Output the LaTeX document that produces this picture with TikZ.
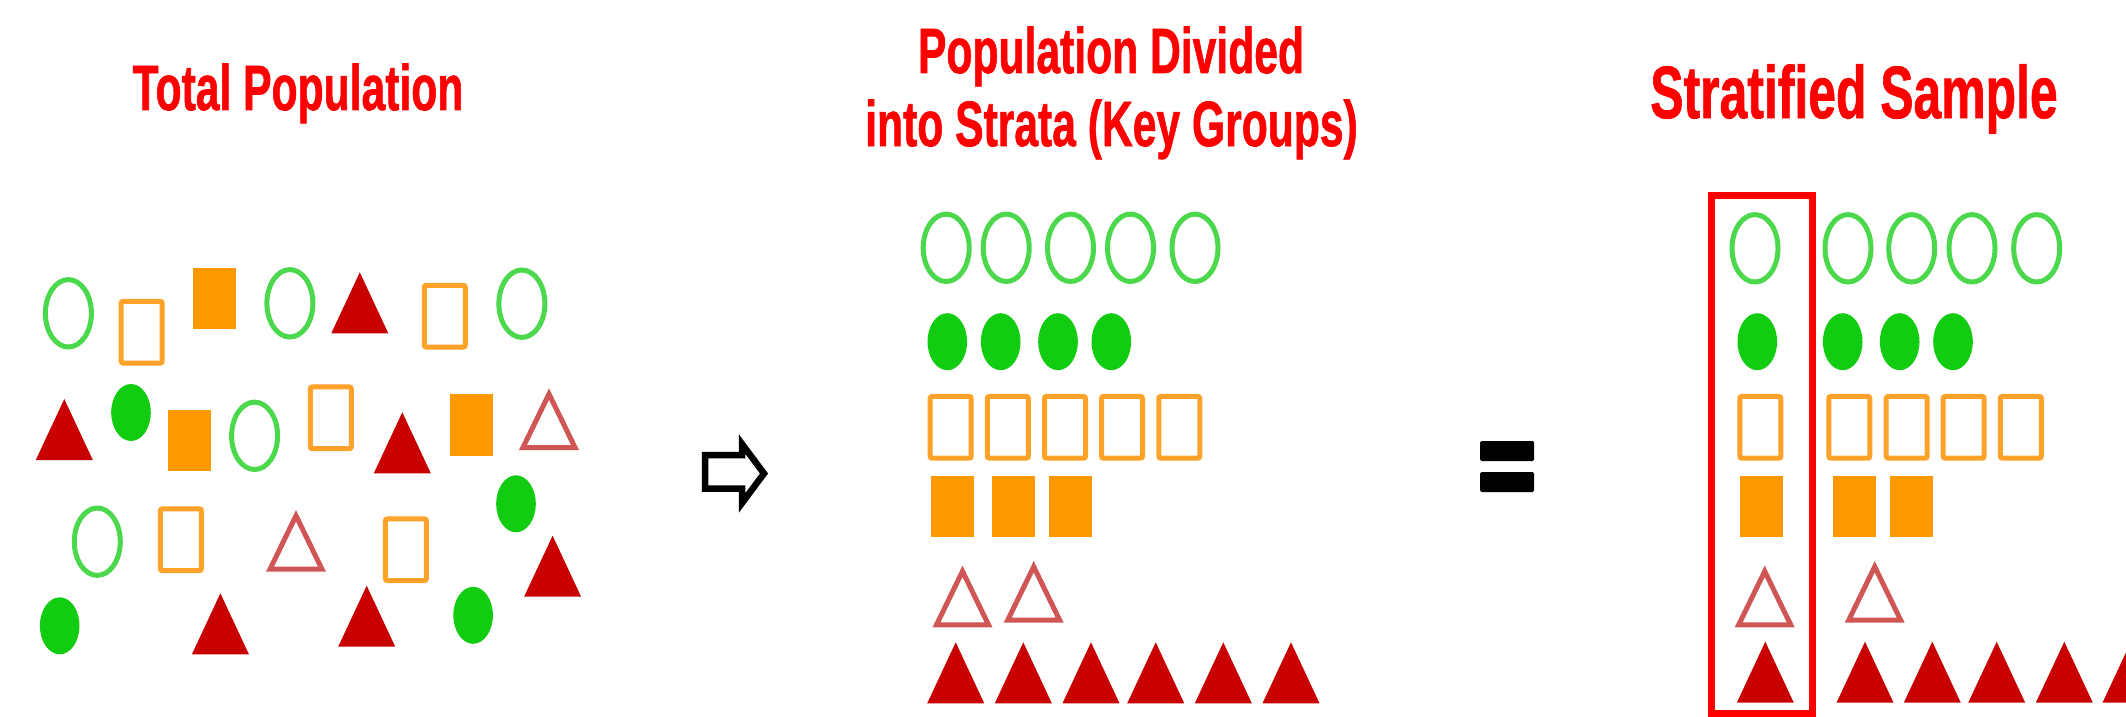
\documentclass[tikz,border=0pt]{standalone}
\usepackage{graphicx}
\usepackage{fontspec}
\newfontfamily\titlefont{Liberation Sans}[BoldFeatures={FakeBold=1.2}]
\definecolor{ogreen}{HTML}{4CD84C}
\definecolor{fgreen}{HTML}{11CC11}
\definecolor{orng}{HTML}{FF9900}
\definecolor{orngline}{HTML}{FFA22A}
\definecolor{dred}{HTML}{C80000}
\definecolor{lred}{HTML}{D05555}
\definecolor{ttl}{HTML}{FF0000}
\tikzset{
  ocirc/.style={draw=ogreen, line width=5pt},
  fcirc/.style={fill=fgreen},
  orect/.style={draw=orngline, line width=5pt, rounded corners=2pt},
  frect/.style={fill=orng},
  otri/.style={draw=lred, line width=5pt},
  ftri/.style={fill=dred},
  ttlstyle/.style={text=ttl, anchor=base, inner sep=0pt, font=\titlefont\bfseries\fontsize{64}{64}\selectfont},
  bigttl/.style={ttlstyle, font=\titlefont\bfseries\fontsize{74}{74}\selectfont},
}
\newcommand\OCirc[2]{\draw[ocirc] (#1,#2) ellipse [x radius=23pt, y radius=33.7pt];}
\newcommand\FCirc[2]{\fill[fcirc] (#1,#2) ellipse [x radius=19.8pt, y radius=28.5pt];}
\newcommand\ORect[2]{\draw[orect,shift={(#1,#2)}] (-20.5,-30.9) rectangle (20.5,30.9);}
\newcommand\FRect[2]{\fill[frect,shift={(#1,#2)}] (-21.5,-30.7) rectangle (21.5,30.7);}
\newcommand\FTri[2]{\fill[ftri,shift={(#1,#2)}] (-28.5,0) -- (0,-61) -- (28.5,0) -- cycle;}
\newcommand\OTri[2]{\draw[otri,shift={(#1,#2)}] (-26,-2.5) -- (0,-56) -- (26,-2.5) -- cycle;}
\begin{document}
\begin{tikzpicture}[x=1pt,y=-1pt]
\useasboundingbox (0,0) rectangle (2126,717);
\fill[white] (0,0) rectangle (2126,717);
\clip (0,0) rectangle (2126,717);

% titles
\node[ttlstyle] (t1) at (298,110) {\scalebox{0.666}[1]{Total Population}};
\node[ttlstyle] (t2a) at (1111,73) {\scalebox{0.666}[1]{Population Divided}};
\node[ttlstyle] (t2b) at (1111.5,146) {\scalebox{0.666}[1]{into Strata (Key Groups)}};
\node[bigttl] (t3) at (1854,118) {\scalebox{0.674}[1]{Stratified Sample}};

% total population (scattered)
\OCirc{68.4}{313.3}
\ORect{141.7}{332.2}
\FRect{214.7}{298.3}
\OCirc{289.9}{303.3}
\FTri{359.8}{333.3}
\ORect{444.8}{316.2}
\OCirc{521.9}{303.7}
\FTri{64.3}{460}
\FCirc{131}{412.5}
\FRect{189.8}{440.5}
\OCirc{254.6}{435.8}
\ORect{330.8}{417.8}
\FTri{402.3}{473.3}
\FRect{471.8}{425}
\OTri{549}{450}
\OCirc{97.3}{541.7}
\ORect{180.9}{539.7}
\OTri{296}{571.7}
\ORect{405.9}{549.7}
\FCirc{516}{503.8}
\FTri{552.6}{596.7}
\FCirc{59.7}{625.8}
\FTri{220.4}{654.3}
\FTri{366.7}{646.7}
\FCirc{473.1}{615.3}

% arrow
\draw[black, line width=6.5pt, fill=white, line join=miter]
  (705,455) -- (742,455) -- (742,444) -- (764,473.5) -- (742,503) -- (742,488.5) -- (705,488.5) -- cycle;

% strata
\foreach \x in {946.2,1006.2,1070.5,1130.5,1195}{\OCirc{\x}{247.8}}
\foreach \x in {947.3,1000.7,1058,1111.3}{\FCirc{\x}{341.7}}
\foreach \x in {950.7,1007.8,1065,1122,1179.3}{\ORect{\x}{427.3}}
\foreach \x in {952.8,1013.7,1070.8}{\FRect{\x}{506.7}}
\OTri{962.5}{627.3}
\OTri{1033.7}{622.7}
\foreach \x in {955.7,1023.3,1091,1155.7,1223.3,1291}{\FTri{\x}{703.3}}

% equals
\fill[black, rounded corners=1.5pt] (1480,441) rectangle (1534,461);
\fill[black, rounded corners=1.5pt] (1480,472) rectangle (1534,492);

% stratified sample
\foreach \x in {1755,1848,1911.7,1972,2036.7}{\OCirc{\x}{248.3}}
\foreach \x in {1757.3,1842.7,1899.7,1953}{\FCirc{\x}{341.7}}
\foreach \x in {1760.3,1849.3,1906.7,1963.7,2020.8}{\ORect{\x}{427.3}}
\foreach \x in {1761.7,1854.3,1911.7}{\FRect{\x}{506.7}}
\OTri{1764.7}{627.3}
\OTri{1874.7}{622.7}
\foreach \x in {1765.3,1865,1932.3,1996.7,2064.3,2131}{\FTri{\x}{702.7}}
\draw[ttl, line width=7pt] (1711.8,195.4) rectangle (1812,713.5);
\end{tikzpicture}
\end{document}
